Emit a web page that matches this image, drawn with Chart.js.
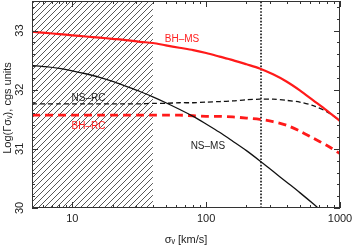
<!DOCTYPE html>
<html>
<head>
<meta charset="utf-8">
<script src="https://cdn.jsdelivr.net/npm/chart.js@4.4.1/dist/chart.umd.min.js"></script>
<style>
  html, body { margin: 0; padding: 0; background: #fff; }
  #wrap { width: 352px; height: 246px; }
</style>
</head>
<body>
<div id="wrap"><canvas id="rateChart"></canvas></div>
<script>
// sigma_v grid (km/s)
var sigmaV = [5, 6.3, 8, 10, 12.6, 16, 20, 25, 32, 40, 50, 63, 80, 100, 126, 158, 200, 251, 316, 398, 501, 631, 794, 1000];

// log(Gamma), cgs units
var bhMS = [32.98, 32.96, 32.94, 32.92, 32.90, 32.88, 32.86, 32.84, 32.81, 32.79, 32.75, 32.71, 32.67, 32.62, 32.56, 32.50, 32.43, 32.36, 32.26, 32.14, 31.99, 31.82, 31.65, 31.47];
var nsMS = [32.41, 32.39, 32.36, 32.32, 32.27, 32.21, 32.14, 32.06, 31.97, 31.88, 31.78, 31.67, 31.55, 31.42, 31.28, 31.13, 30.97, 30.80, 30.62, 30.44, 30.26, 30.07, 29.87, 29.66];
var nsRC = [31.76, 31.76, 31.76, 31.76, 31.76, 31.76, 31.76, 31.76, 31.76, 31.77, 31.77, 31.78, 31.78, 31.79, 31.80, 31.81, 31.83, 31.84, 31.84, 31.82, 31.79, 31.73, 31.63, 31.48];
var bhRC = [31.57, 31.57, 31.57, 31.57, 31.57, 31.57, 31.57, 31.57, 31.57, 31.57, 31.57, 31.57, 31.56, 31.55, 31.55, 31.54, 31.52, 31.50, 31.46, 31.40, 31.30, 31.18, 31.06, 30.92];

var sigmaMark = 257;     // vertical dotted line
var hatchEdge = 40;      // excluded region sigma_v < 40

var xTicks = [10, 100, 1000];
var yTicks = [30, 31, 32, 33];
var xMin = 5, xMax = 1000, yMin = 30, yMax = 33.5;

var curveLabels = ['BH\u2013MS', 'NS\u2013RC', 'BH\u2013RC', 'NS\u2013MS'];
var labelX = [66, 13.2, 13.2, 103];
var labelY = [32.86, 31.85, 31.375, 31.05];
var labelColors = ['#ff2020', '#222', '#ff2020', '#222'];

function pts(ys) {
    return sigmaV.map(function(x, i) { return { x: x, y: ys[i] }; });
}

// diagonal hatch pattern
function makeHatch() {
    var s = 6;
    var c = document.createElement('canvas');
    c.width = s; c.height = s;
    var g = c.getContext('2d');
    g.strokeStyle = '#444';
    g.lineWidth = 0.9;
    g.beginPath();
    g.moveTo(0, s); g.lineTo(s, 0);
    g.moveTo(-1, 1); g.lineTo(1, -1);
    g.moveTo(s - 1, s + 1); g.lineTo(s + 1, s - 1);
    g.stroke();
    return g.createPattern(c, 'repeat');
}

var frameAndText = {
    id: 'frameAndText',
    afterDatasetsDraw: function(chart) {
        var ctx = chart.ctx;
        var xs = chart.scales.x, ys = chart.scales.y;
        var a = chart.chartArea;
        ctx.save();

        // curve labels
        ctx.font = '10px "Liberation Sans", Arial, sans-serif';
        ctx.textAlign = 'center';
        ctx.textBaseline = 'middle';
        curveLabels.forEach(function(t, i) {
            ctx.fillStyle = labelColors[i];
            ctx.fillText(t, xs.getPixelForValue(labelX[i]), ys.getPixelForValue(labelY[i]));
        });

        // frame
        ctx.strokeStyle = '#333';
        ctx.lineWidth = 1;
        ctx.strokeRect(a.left + 0.5, a.top + 0.5, a.right - a.left - 1, a.bottom - a.top - 1);

        // inward ticks, x
        ctx.beginPath();
        for (var d = 1; d <= 1000; d *= 10) {
            for (var m = 1; m <= 9; m++) {
                var v = d * m;
                if (v < xMin || v > xMax) continue;
                var px = Math.round(xs.getPixelForValue(v)) + 0.5;
                var len = (m === 1) ? 6 : 3;
                ctx.moveTo(px, a.bottom); ctx.lineTo(px, a.bottom - len);
                ctx.moveTo(px, a.top); ctx.lineTo(px, a.top + len);
            }
        }
        // inward ticks, y
        for (var k = 0; k <= 17; k++) {
            var yv = yMin + k * 0.2;
            if (yv > yMax + 1e-6) break;
            var py = Math.round(ys.getPixelForValue(yv)) + 0.5;
            var major = k % 5 === 0;
            var l2 = major ? 6 : 3;
            ctx.moveTo(a.left, py); ctx.lineTo(a.left + l2, py);
            ctx.moveTo(a.right, py); ctx.lineTo(a.right - l2, py);
        }
        ctx.stroke();

        // tick labels
        ctx.fillStyle = '#222';
        ctx.font = '11px "Liberation Sans", Arial, sans-serif';
        ctx.textAlign = 'center';
        ctx.textBaseline = 'top';
        xTicks.forEach(function(v) {
            ctx.fillText(String(v), xs.getPixelForValue(v), a.bottom + 5);
        });
        yTicks.forEach(function(v) {
            ctx.save();
            ctx.translate(a.left - 12, ys.getPixelForValue(v));
            ctx.rotate(-Math.PI / 2);
            ctx.textBaseline = 'middle';
            ctx.fillText(String(v), 0, 0);
            ctx.restore();
        });

        // axis titles
        ctx.textBaseline = 'middle';
        ctx.fillText('\u03c3\u1d65 [km/s]', (a.left + a.right) / 2, 240);
        ctx.save();
        ctx.translate(8, 108);
        ctx.rotate(-Math.PI / 2);
        ctx.fillText('Log(\u0393\u03c3\u1d65), cgs units', 0, 0);
        ctx.restore();

        ctx.restore();
    }
};

document.addEventListener('DOMContentLoaded', function() {
    var ctx = document.getElementById('rateChart').getContext('2d');

    var rateChart = new Chart(ctx, {
        type: 'line',
        data: {
            datasets: [{
                label: 'BH-MS',
                data: pts(bhMS),
                borderColor: '#ff1a1a',
                borderWidth: 2.2,
                tension: 0.3
            }, {
                label: 'NS-MS',
                data: pts(nsMS),
                borderColor: '#111',
                borderWidth: 1.3,
                tension: 0.3
            }, {
                label: 'NS-RC',
                data: pts(nsRC),
                borderColor: '#111',
                borderWidth: 1.3,
                borderDash: [5, 3],
                tension: 0.3
            }, {
                label: 'BH-RC',
                data: pts(bhRC),
                borderColor: '#ff1a1a',
                borderWidth: 2.8,
                borderDash: [8, 5],
                tension: 0.3
            }, {
                label: 'mark',
                data: [{ x: sigmaMark, y: yMin }, { x: sigmaMark, y: yMax }],
                borderColor: '#111',
                borderWidth: 1.6,
                borderDash: [1.6, 1.6]
            }, {
                label: 'excluded',
                data: [{ x: xMin, y: yMax }, { x: hatchEdge, y: yMax }],
                borderWidth: 0,
                borderColor: 'rgba(0,0,0,0)',
                backgroundColor: makeHatch(),
                fill: 'start',
                order: 10
            }]
        },
        options: {
            responsive: true,
            maintainAspectRatio: false,
            animation: false,
            layout: { padding: { left: 32, right: 12, top: 1, bottom: 38 } },
            elements: { point: { radius: 0 } },
            plugins: { legend: { display: false }, tooltip: { enabled: false } },
            scales: {
                x: { type: 'logarithmic', min: xMin, max: xMax, display: false },
                y: { type: 'linear', min: yMin, max: yMax, display: false }
            }
        },
        plugins: [frameAndText]
    });
});
</script>
</body>
</html>
